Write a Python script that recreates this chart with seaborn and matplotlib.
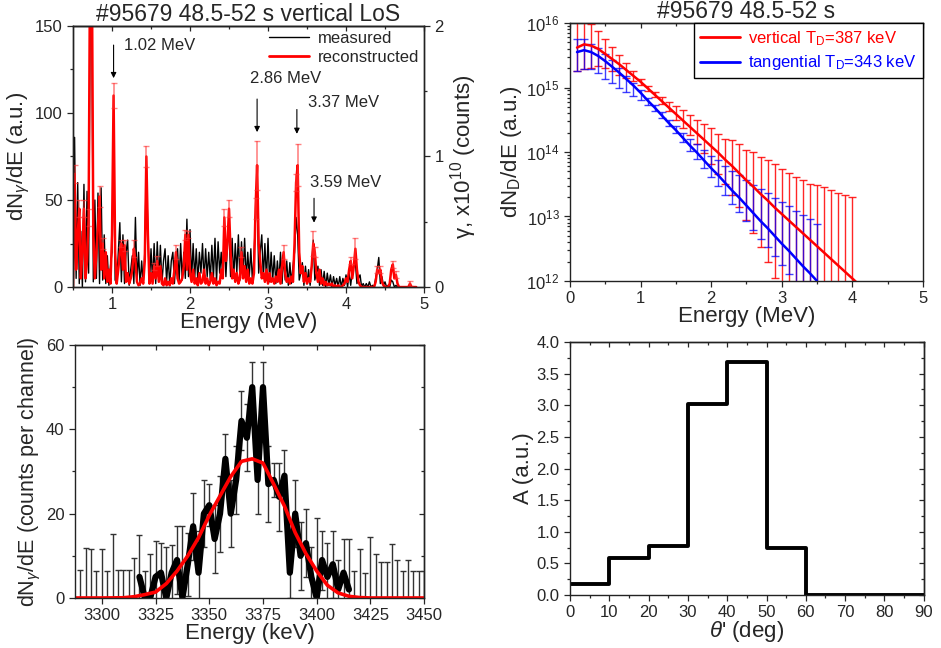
import numpy as np
import pandas as pd
import matplotlib
matplotlib.use("Agg")
import matplotlib.pyplot as plt
import seaborn as sns
from matplotlib.ticker import MultipleLocator, LogLocator, NullFormatter
from matplotlib.lines import Line2D

sns.set_theme(style="ticks")
plt.rcParams['font.family'] = ['Liberation Sans', 'DejaVu Sans']
plt.rcParams['mathtext.fontset'] = 'custom'
plt.rcParams['mathtext.rm'] = 'Liberation Sans'
plt.rcParams['mathtext.it'] = 'Liberation Sans:italic'
plt.rcParams['mathtext.bf'] = 'Liberation Sans:bold'
plt.rcParams['axes.edgecolor'] = '#222222'
plt.rcParams['axes.linewidth'] = 1.0

# ---------------- panel 1: gamma spectrum ----------------
spec_E = np.round(np.arange(0.50, 4.901, 0.02), 2)
measured = [
    2, 86, 5, 60, 2, 32, 0, 59, 3, 55,
    8, 160, 170, 3, 50, 5, 54, 2, 57, 4,
    30, 2, 18, 1, 12, 20, 88, 4, 2, 20,
    37, 3, 30, 2, 20, 27, 1, 10, 18, 2,
    40, 3, 20, 1, 15, 2, 20, 70, 30, 2,
    22, 3, 25, 2, 26, 4, 24, 2, 15, 22,
    3, 18, 1, 15, 20, 2, 16, 22, 3, 25,
    4, 20, 5, 39, 6, 33, 4, 25, 5, 22,
    3, 20, 8, 25, 4, 22, 6, 20, 4, 24,
    5, 28, 3, 26, 8, 20, 5, 28, 6, 25,
    33, 6, 28, 5, 25, 8, 30, 4, 26, 6,
    28, 4, 20, 6, 22, 3, 18, 40, 55, 8,
    20, 30, 5, 25, 4, 28, 3, 20, 4, 18,
    2, 15, 3, 20, 2, 18, 4, 15, 1, 14,
    2, 12, 20, 40, 30, 4, 8, 14, 1, 12,
    2, 10, 1, 12, 27, 4, 8, 12, 1, 10,
    1, 9, 0, 8, 1, 7, 0, 6, 1, 5,
    0, 6, 0, 5, 1, 7, 0, 8, 1, 9,
    12, 14, 2, 5, 7, 0, 2, 0, 2, 0,
    3, 0, 1, 0, 5, 10, 17, 2, 6, 1,
    3, 0, 1, 0, 4, 3, 0, 1, 0, 0,
    0, 0, 0, 0, 0, 0, 0, 0, 0, 0,
    0]
reconstructed = [
    0, 65, 10, 30, 45, 5, 20, 45, 5, 15,
    40, 200, 200, 30, 5, 20, 35, 52, 10, 25,
    5, 20, 3, 10, 2, 30, 110, 20, 2, 10,
    20, 25, 10, 24, 3, 8, 2, 5, 10, 22,
    15, 3, 1, 2, 5, 2, 15, 75, 30, 2,
    8, 2, 12, 5, 15, 3, 12, 2, 1, 5,
    1, 3, 1, 5, 2, 10, 20, 5, 2, 3,
    5, 12, 30, 10, 30, 8, 3, 10, 2, 5,
    1, 8, 2, 3, 10, 2, 5, 1, 3, 8,
    2, 5, 1, 3, 2, 10, 5, 40, 15, 25,
    45, 20, 5, 10, 3, 8, 2, 5, 20, 5,
    12, 3, 10, 2, 5, 2, 8, 45, 70, 25,
    15, 5, 8, 3, 10, 2, 8, 3, 5, 2,
    6, 3, 10, 2, 12, 20, 8, 3, 5, 2,
    6, 3, 25, 60, 70, 20, 8, 12, 3, 8,
    2, 5, 3, 12, 25, 20, 8, 3, 10, 2,
    5, 1, 3, 1, 2, 1, 2, 0, 1, 0,
    1, 0, 0, 1, 2, 5, 3, 10, 15, 5,
    12, 22, 10, 3, 1, 0, 0, 0, 0, 0,
    0, 0, 0, 0, 3, 10, 8, 10, 3, 1,
    0, 0, 0, 2, 10, 13, 5, 7, 2, 0,
    0, 0, 0, 0, 0, 0, 2, 0, 0, 0,
    0]
rec_err_E = [0.52, 0.58, 0.64, 0.70, 0.84, 0.88, 1.02, 1.12, 1.16, 1.28, 1.44, 1.54,
             1.58, 1.82, 1.94, 1.98, 2.44, 2.50, 2.66, 2.84, 2.86, 3.20, 3.36, 3.38,
             3.58, 3.60, 4.06, 4.12, 4.40, 4.44, 4.60, 4.64, 4.82]
rec_err = [5, 5, 5, 5, 6, 3, 7, 2, 3, 5, 6, 2,
           3, 4, 3, 2, 5, 5, 3, 6, 14, 4, 5, 12,
           7, 3, 2, 6, 2, 2, 2, 2, 1.5]
peak_labels = ["1.02 MeV", "2.86 MeV", "3.37 MeV", "3.59 MeV"]
peak_E = [1.02, 2.86, 3.37, 3.59]

# ---------------- panel 2: deuteron distributions ----------------
td_E = [0.1, 0.2, 0.3, 0.4, 0.5, 0.6, 0.7, 0.8, 0.9, 1.0,
        1.1, 1.2, 1.3, 1.4, 1.5, 1.6, 1.7, 1.8, 1.9, 2.0,
        2.1, 2.2, 2.3, 2.4, 2.5, 2.6, 2.7, 2.8, 2.9, 3.0,
        3.1, 3.2, 3.3, 3.4, 3.5, 3.6, 3.7, 3.8, 3.9, 4.0]
vert_log = [15.62, 15.67, 15.65, 15.60, 15.52, 15.44, 15.36, 15.27, 15.18, 15.09,
            14.99, 14.89, 14.79, 14.69, 14.59, 14.49, 14.39, 14.29, 14.19, 14.09,
            13.99, 13.88, 13.78, 13.67, 13.56, 13.46, 13.35, 13.25, 13.14, 13.04,
            12.94, 12.84, 12.74, 12.64, 12.54, 12.44, 12.34, 12.24, 12.14, 12.04]
vert_hi = [16.40, 16.05, 15.98, 15.88, 15.76, 15.63, 15.51, 15.38, 15.25, 15.13,
           15.02, 14.93, 14.85, 14.78, 14.71, 14.65, 14.57, 14.50, 14.44, 14.37,
           14.28, 14.20, 14.18, 14.12, 14.03, 14.00, 13.93, 13.88, 13.81, 13.74,
           13.68, 13.62, 13.57, 13.51, 13.49, 13.45, 13.41, 13.37, 13.34, 13.30]
vert_lo = [15.25, 15.29, 15.30, 15.33, 15.30, 15.25, 15.20, 15.15, 15.10, 15.04,
           14.95, 14.85, 14.74, 14.63, 14.50, 14.38, 14.26, 14.12, 13.98, 13.82,
           13.66, 13.50, 13.33, 13.15, 12.95, 12.75, 12.52, 12.30, 12.05, 11.0,
           11.0, 11.0, 11.0, 11.0, 11.0, 11.0, 11.0, 11.0, 11.0, 11.0]
vert_end = (4.05, 11.99)
tang_E = td_E[:35]
tang_log = [15.55, 15.58, 15.55, 15.49, 15.41, 15.32, 15.23, 15.13, 15.03, 14.92,
            14.80, 14.69, 14.57, 14.45, 14.34, 14.22, 14.10, 13.99, 13.87, 13.75,
            13.64, 13.52, 13.40, 13.29, 13.17, 13.05, 12.93, 12.82, 12.70, 12.58,
            12.47, 12.35, 12.23, 12.12, 12.00]
tang_up = [0.21, 0.18, 0.13, 0.12, 0.11, 0.10, 0.07, 0.05, 0.04, 0.04,
           0.04, 0.04, 0.05, 0.05, 0.06, 0.08, 0.10, 0.13, 0.16, 0.19,
           0.23, 0.27, 0.31, 0.35, 0.39, 0.44, 0.49, 0.54, 0.59, 0.64,
           0.69, 0.74, 0.79, 0.84, 0.89]
tang_dn = [0.30, 0.30, 0.27, 0.26, 0.28, 0.25, 0.23, 0.20, 0.16, 0.11,
           0.07, 0.05, 0.04, 0.04, 0.05, 0.06, 0.08, 0.10, 0.12, 0.14,
           0.16, 0.18, 0.20, 0.22, 0.24, 0.26, 0.28, 0.30, 0.32, 0.34,
           0.36, 0.38, 0.40, 0.42, 0.44]

# ---------------- panel 3: 3.37 MeV line ----------------
line_E = [3290.0, 3292.5, 3295.0, 3297.5, 3300.0, 3302.5, 3305.0, 3307.5, 3310.0, 3312.5,
          3315.0, 3317.5, 3320.0, 3322.5, 3325.0, 3327.5, 3330.0, 3332.5, 3335.0, 3337.5,
          3340.0, 3342.5, 3345.0, 3347.5, 3350.0, 3352.5, 3355.0, 3357.5, 3360.0, 3362.5,
          3365.0, 3367.5, 3370.0, 3372.5, 3375.0, 3377.5, 3380.0, 3382.5, 3385.0, 3387.5,
          3390.0, 3392.5, 3395.0, 3397.5, 3400.0, 3402.5, 3405.0, 3407.5, 3410.0, 3412.5,
          3415.0, 3417.5, 3420.0, 3422.5, 3425.0, 3427.5, 3430.0, 3432.5, 3435.0, 3437.5,
          3440.0, 3442.5, 3445.0, 3447.5, 3450.0]
line_counts = [0, 0, 0, 0, 0, 0, 0, 0, 0, 0,
               0, 5, 0, 0, 5, 6, 0, 6, 9, 0,
               8, 17, 6, 20, 22, 14, 20, 33, 20, 28,
               42, 38, 50, 28, 50, 27, 28, 24, 29, 6,
               20, 10, 13, 5, 0, 9, 5, 8, 2, 6,
               2, 0, 0, 0, 0, 0, 0, 0, 0, 0,
               0, 0, 0, 0, 0]
line_err = [6.7, 11.8, 11.5, 6.5, 11.5, 6.5, 15.2, 6.7, 6.7, 6.7,
            9.5, 10, 6.5, 10.5, 8.5, 7, 12, 6.5, 8, 17,
            7.5, 8, 10, 8, 5, 8, 9, 6, 8, 8,
            7, 8, 6, 8, 6, 9, 4, 8, 6, 6,
            8, 8, 8, 7, 19, 7, 8, 8, 7, 8,
            12, 6.5, 11.5, 6, 14.5, 10.5, 8.5, 8.5, 12.8, 9,
            6.5, 9, 6.5, 6.5, 6.5]
fit_E = [3287.5, 3300, 3310, 3315, 3320, 3325, 3330, 3335, 3340, 3345, 3350, 3355,
         3360, 3365, 3370, 3375, 3380, 3385, 3390, 3395, 3400, 3405, 3410, 3415,
         3420, 3425, 3450]
fit_counts = [0, 0, 0.05, 0.3, 0.8, 1.4, 3.4, 6.4, 10, 14.3, 19.6, 24.2,
              28.8, 32.4, 33, 32, 27, 21.8, 15.5, 10.5, 6.4, 3.0, 1.2, 0.4,
              0.1, 0, 0]

# ---------------- panel 4: angular distribution ----------------
theta_edges = [0, 10, 20, 30, 40, 50, 60, 70, 80, 90]
A_values = [0.18, 0.58, 0.77, 3.02, 3.69, 0.75, 0.0, 0.0, 0.0]

# =======================================================
fig = plt.figure(figsize=(9.41, 6.48), dpi=100)
TICK = 12
LAB = 16
TIT = 16.5

def mirror(ax, xmaj, xmin=None, ymaj=None, ymin=None, top=True, right=True):
    if top:
        s = ax.secondary_xaxis('top')
        s.set_xticks(xmaj)
        if xmin is not None:
            s.set_xticks(xmin, minor=True)
        s.tick_params(which='both', direction='in', labeltop=False, length=3.5, width=0.9)
        s.tick_params(which='minor', length=2)
    if right and ymaj is not None:
        s = ax.secondary_yaxis('right')
        s.set_yticks(ymaj)
        if ymin is not None:
            s.set_yticks(ymin, minor=True)
        s.tick_params(which='both', direction='in', labelright=False, length=3.5, width=0.9)
        s.tick_params(which='minor', length=2)

# ---- panel 1 ----
ax1 = fig.add_axes([0.0776, 0.557, 0.373, 0.403])
df1 = pd.DataFrame({"E": spec_E, "meas": measured, "rec": reconstructed})
sns.lineplot(data=df1, x="E", y="meas", ax=ax1, color="black", lw=1.0, sort=False)
sns.lineplot(data=df1, x="E", y="rec", ax=ax1, color="#ff0000", lw=1.8, sort=False)
err_idx = [int(round((e - 0.50) / 0.02)) for e in rec_err_E]
ax1.errorbar(rec_err_E, [reconstructed[i] for i in err_idx], yerr=rec_err, fmt='none',
             ecolor=(1, 0.2, 0.2, 0.6), elinewidth=1.2, capsize=2.5, capthick=1.0)
ax1.set_xlim(0.5, 5)
ax1.set_ylim(0, 150)
ax1.xaxis.set_major_locator(MultipleLocator(1))
ax1.xaxis.set_minor_locator(MultipleLocator(0.5))
ax1.yaxis.set_major_locator(MultipleLocator(50))
ax1.yaxis.set_minor_locator(MultipleLocator(25))
ax1.tick_params(which='both', direction='out', labelsize=TICK, length=4, width=0.9)
ax1.tick_params(which='minor', length=2.5)
ax1.set_xlabel("Energy (MeV)", fontsize=LAB, labelpad=0)
ax1.set_ylabel(r"dN$_\gamma$/dE (a.u.)", fontsize=LAB, labelpad=2)
ax1.set_title("#95679 48.5-52 s vertical LoS", fontsize=TIT, pad=3)
mirror(ax1, [1, 2, 3, 4, 5], [1.5, 2.5, 3.5, 4.5], right=False)
ax1b = ax1.twinx()
ax1b.set_ylim(0, 2)
ax1b.yaxis.set_major_locator(MultipleLocator(1))
ax1b.yaxis.set_minor_locator(MultipleLocator(0.5))
ax1b.tick_params(which='both', direction='out', labelsize=TICK, length=4, width=0.9)
ax1b.tick_params(which='minor', length=2.5)
ax1b.set_ylabel("γ, x10$^{10}$ (counts)", fontsize=LAB, labelpad=3)
arrow_from = [139, 108, 102, 51]
arrow_to = [120, 89, 88, 37]
text_xy = [(1.15, 139), (2.77, 120), (3.51, 106), (3.54, 60)]
for lab, e, y0, y1, (tx, ty) in zip(peak_labels, peak_E, arrow_from, arrow_to, text_xy):
    ax1.annotate("", xy=(e, y1), xytext=(e, y0),
                 arrowprops=dict(arrowstyle="-|>", color="black", lw=0.8,
                                 mutation_scale=8, shrinkA=0, shrinkB=0))
    ax1.text(tx, ty, lab, fontsize=12, ha='left', va='center')
leg_handles = [Line2D([], [], color='black', lw=1.0), Line2D([], [], color='#ff0000', lw=2.0)]
ax1.legend(leg_handles, ["measured", "reconstructed"], loc='upper right', frameon=False,
           fontsize=12, handlelength=2.4, borderaxespad=0.1, borderpad=0.2,
           labelspacing=0.25, handletextpad=0.5)

# ---- panel 2 ----
ax2 = fig.add_axes([0.6057, 0.5664, 0.375, 0.398])
vE = td_E + [vert_end[0]]
vY = [10 ** v for v in vert_log] + [10 ** vert_end[1]]
df2v = pd.DataFrame({"E": vE, "N": vY})
df2t = pd.DataFrame({"E": tang_E, "N": [10 ** v for v in tang_log]})
ax2.set_yscale('log')
vv = np.array([10 ** v for v in vert_log])
ax2.errorbar(td_E, vv, yerr=[vv - 10 ** np.array(vert_lo), 10 ** np.array(vert_hi) - vv],
             fmt='none', ecolor=(1, 0, 0, 0.85), elinewidth=1.0, capsize=3, capthick=1.0)
tv = np.array([10 ** v for v in tang_log])
tlo = 10 ** (np.array(tang_log) - np.array(tang_dn))
thi = 10 ** (np.array(tang_log) + np.array(tang_up))
ax2.errorbar(tang_E, tv, yerr=[tv - tlo, thi - tv], fmt='none',
             ecolor=(0, 0, 1, 0.75), elinewidth=1.0, capsize=3, capthick=1.0)
sns.lineplot(data=df2v, x="E", y="N", ax=ax2, color="#ff0000", lw=1.8, sort=False)
sns.lineplot(data=df2t, x="E", y="N", ax=ax2, color="#0000ff", lw=1.8, sort=False)
ax2.set_xlim(0, 5)
ax2.set_ylim(1e12, 1e16)
ax2.xaxis.set_major_locator(MultipleLocator(1))
ax2.xaxis.set_minor_locator(MultipleLocator(0.5))
ax2.yaxis.set_major_locator(LogLocator(base=10, numticks=10))
ax2.yaxis.set_minor_locator(LogLocator(base=10, subs=np.arange(2, 10), numticks=10))
ax2.yaxis.set_minor_formatter(NullFormatter())
ax2.tick_params(which='both', direction='out', labelsize=TICK, length=4, width=0.9)
ax2.tick_params(which='minor', length=2)
ax2.set_xlabel("Energy (MeV)", fontsize=LAB, labelpad=0)
ax2.set_ylabel(r"dN$_\mathrm{D}$/dE (a.u.)", fontsize=LAB, labelpad=2)
ax2.set_title("#95679 48.5-52 s", fontsize=TIT, pad=3)
mirror(ax2, [0, 1, 2, 3, 4, 5], [0.5, 1.5, 2.5, 3.5, 4.5], right=False)
h2 = [Line2D([], [], color='#ff0000', lw=2.0), Line2D([], [], color='#0000ff', lw=2.0)]
leg2 = ax2.legend(h2, [r"vertical T$_\mathrm{D}$=387 keV", r"tangential T$_\mathrm{D}$=343 keV"],
                  loc='upper right', fontsize=12, frameon=True, fancybox=False,
                  edgecolor='black', framealpha=1, borderaxespad=0, handlelength=2.4,
                  handletextpad=0.5, borderpad=0.35, labelspacing=0.35)
leg2.get_frame().set_linewidth(1.0)
for t, c in zip(leg2.get_texts(), ['#ff0000', '#0000ff']):
    t.set_color(c)

# ---- panel 3 ----
ax3 = fig.add_axes([0.0797, 0.0772, 0.371, 0.3904])
ax3.errorbar(line_E, line_counts, yerr=line_err, fmt='none', ecolor='#333333',
             elinewidth=1.0, capsize=2.5, capthick=1.0)
df3 = pd.DataFrame({"E": line_E, "c": line_counts})
mask = (df3["E"] >= 3317.5) & (df3["E"] <= 3415.0)
sns.lineplot(data=df3[mask], x="E", y="c", ax=ax3, color="black", lw=4.5, sort=False)
df3f = pd.DataFrame({"E": fit_E, "c": fit_counts})
sns.lineplot(data=df3f, x="E", y="c", ax=ax3, color="#ff0000", lw=2.6, sort=False)
ax3.set_xlim(3287.5, 3450)
ax3.set_ylim(0, 60)
ax3.xaxis.set_major_locator(MultipleLocator(25))
ax3.yaxis.set_major_locator(MultipleLocator(20))
ax3.yaxis.set_minor_locator(MultipleLocator(10))
ax3.tick_params(which='both', direction='out', labelsize=TICK, length=4, width=0.9)
ax3.tick_params(which='minor', length=2.5)
ax3.set_xlabel("Energy (keV)", fontsize=LAB, labelpad=0)
ax3.set_ylabel(r"dN$_\gamma$/dE (counts per channel)", fontsize=LAB - 0.5, labelpad=2)
mirror(ax3, [3300, 3325, 3350, 3375, 3400, 3425], None, [0, 20, 40, 60], [10, 30, 50])

# ---- panel 4 ----
ax4 = fig.add_axes([0.6057, 0.0818, 0.376, 0.3904])
df4 = pd.DataFrame({"theta": theta_edges, "A": A_values + [A_values[-1]]})
sns.lineplot(data=df4, x="theta", y="A", ax=ax4, color="black", lw=2.8,
             drawstyle="steps-post", sort=False)
ax4.set_xlim(0, 90)
ax4.set_ylim(0, 4)
ax4.xaxis.set_major_locator(MultipleLocator(10))
ax4.xaxis.set_minor_locator(MultipleLocator(5))
ax4.yaxis.set_major_locator(MultipleLocator(0.5))
ax4.yaxis.set_minor_locator(MultipleLocator(0.25))
ax4.yaxis.set_major_formatter(matplotlib.ticker.FormatStrFormatter('%.1f'))
ax4.tick_params(which='both', direction='out', labelsize=TICK, length=4, width=0.9)
ax4.tick_params(which='minor', length=2.5)
ax4.set_xlabel(r"$\theta$' (deg)", fontsize=LAB, labelpad=-1)
ax4.set_ylabel("A (a.u.)", fontsize=LAB, labelpad=2)
mirror(ax4, list(range(0, 91, 10)), list(range(5, 90, 10)),
       [0, 0.5, 1, 1.5, 2, 2.5, 3, 3.5, 4], [0.25, 0.75, 1.25, 1.75, 2.25, 2.75, 3.25, 3.75])

fig.savefig("out.png", dpi=100)
